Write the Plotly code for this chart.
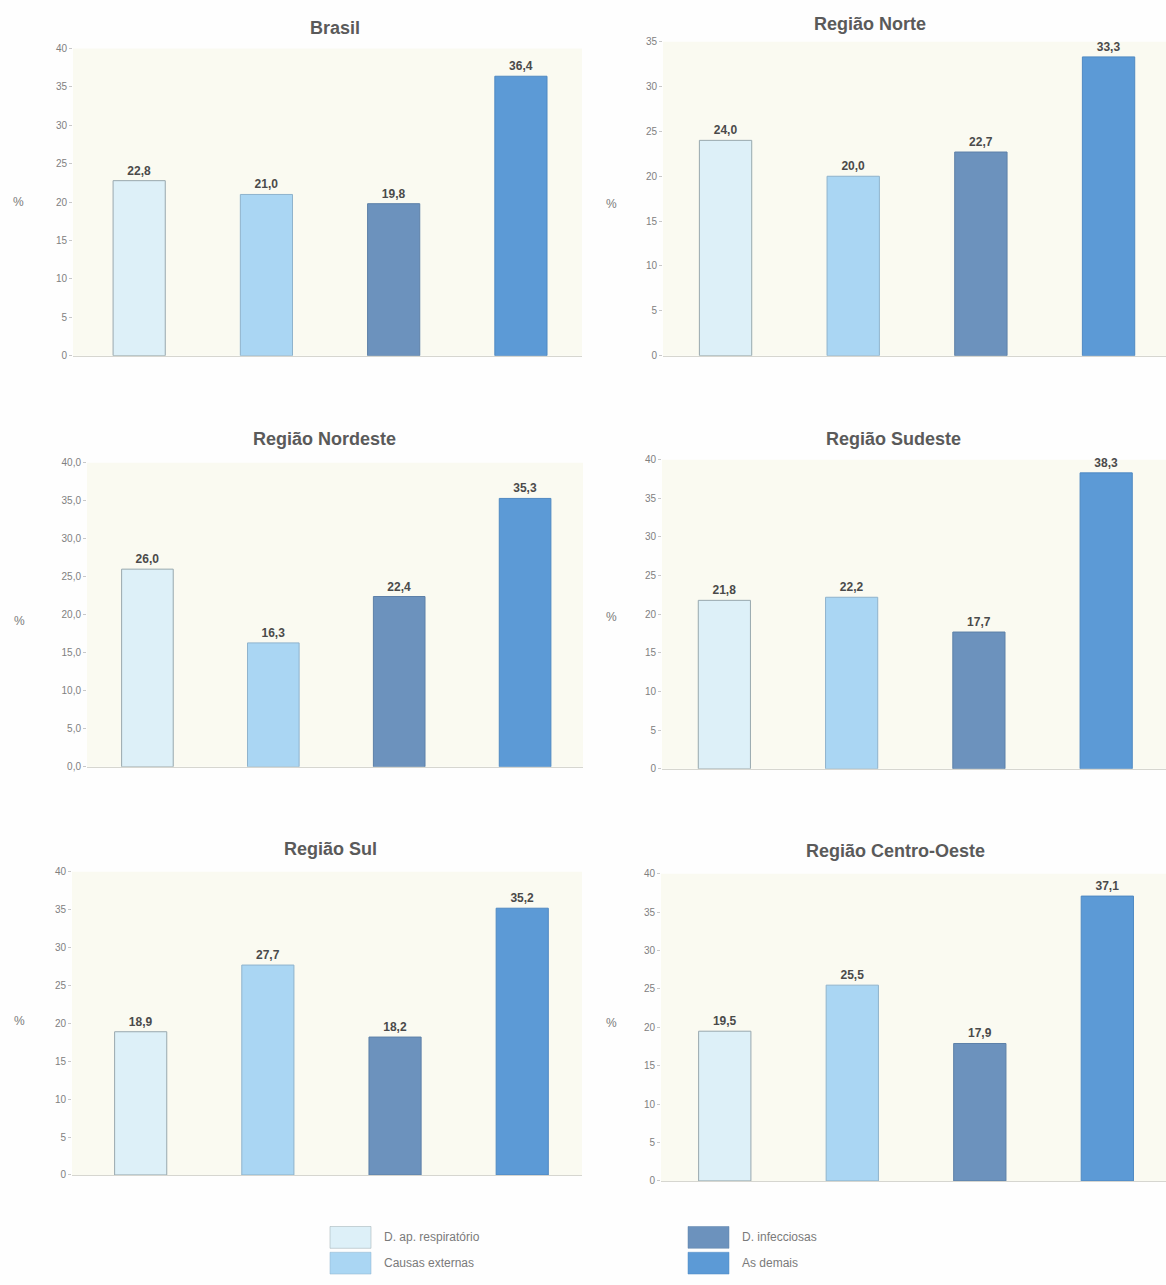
import plotly.graph_objects as go

# Causes of death, share (%) by region
causas = ["D. ap. respiratório", "Causas externas", "D. infecciosas", "As demais"]
cores = ["#ddf0f8", "#aad6f3", "#6c92bd", "#5c9ad6"]
bordas = ["#98a8ae", "#8fb3cc", "#5d80a8", "#4f89c2"]

regioes = ["Brasil", "Região Norte", "Região Nordeste",
           "Região Sudeste", "Região Sul", "Região Centro-Oeste"]
brasil = [22.8, 21.0, 19.8, 36.4]
norte = [24.0, 20.0, 22.7, 33.3]
nordeste = [26.0, 16.3, 22.4, 35.3]
sudeste = [21.8, 22.2, 17.7, 38.3]
sul = [18.9, 27.7, 18.2, 35.2]
centro_oeste = [19.5, 25.5, 17.9, 37.1]
valores = [brasil, norte, nordeste, sudeste, sul, centro_oeste]

y_max = [40, 35, 40, 40, 40, 40]
y_fmt = ["d", "d", ".1f", "d", "d", "d"]

W, H = 1166, 1285

# panel boxes in pixels: left, right, top, bottom
caixas = [
    (73, 582, 43, 353),
    (663, 1166, 36, 353),
    (87, 583, 461, 768),
    (662, 1166, 458, 770),
    (72, 582, 874, 1180),
    (661, 1166, 876, 1186),
]
x_rng = [(-0.52, 3.48), (-0.49, 3.45), (-0.48, 3.46),
         (-0.49, 3.47), (-0.54, 3.47), (-0.5, 3.46)]
titulo_xy = [(335, 22), (870, 18), (325, 437), (893, 437), (330, 851), (895, 853)]
pct_xy = [(18, 198), (611, 200), (19, 621), (611, 617), (19, 1025), (611, 1027)]

fig = go.Figure()
annotations = []
for i, (nome, vals) in enumerate(zip(regioes, valores)):
    ax = "" if i == 0 else str(i + 1)
    fig.add_trace(go.Bar(
        x=causas, y=vals,
        xaxis="x" + ax, yaxis="y" + ax,
        marker=dict(color=cores, line=dict(color=bordas, width=1)),
        width=0.41,
        texttemplate="%{y:.1f}", textposition="outside", cliponaxis=False,
        textfont=dict(family="Liberation Sans, Arial", size=12, color="#4a4a4a",
                      weight="bold"),
        showlegend=False, hoverinfo="skip",
    ))
    l, r, t, b = caixas[i]
    fig.update_layout(**{
        "xaxis" + ax: dict(
            domain=[l / W, r / W], range=list(x_rng[i]), anchor="y" + ax,
            showticklabels=False, ticks="", showgrid=False, zeroline=False,
            showline=True, linecolor="#d6d6d0", linewidth=1, fixedrange=True,
        ),
        "yaxis" + ax: dict(
            domain=[1 - b / H, 1 - t / H], range=[0, y_max[i]], anchor="x" + ax,
            dtick=5, tickformat=y_fmt[i], showgrid=False, zeroline=False,
            showline=False, ticks="outside", ticklen=3, tickcolor="#c8c8c8",
            tickfont=dict(family="Liberation Sans, Arial", size=10, color="#808080"),
            fixedrange=True,
        ),
    })
    # pale plot background
    fig.add_shape(type="rect", xref="x" + ax + " domain", yref="y" + ax + " domain",
                  x0=0, x1=1, y0=0, y1=1, fillcolor="#fafaf1", line_width=0,
                  layer="below")
    tx, ty = titulo_xy[i]
    annotations.append(dict(
        x=tx / W, y=1 - ty / H, xref="paper", yref="paper", text="<b>%s</b>" % nome,
        showarrow=False, xanchor="center", yanchor="middle",
        font=dict(family="Liberation Sans, Arial", size=18, color="#5a5a5a"),
    ))
    px, py = pct_xy[i]
    annotations.append(dict(
        x=px / W, y=1 - py / H, xref="paper", yref="paper", text="%",
        showarrow=False, xanchor="center", yanchor="middle",
        font=dict(family="Liberation Sans, Arial", size=12, color="#7a7a7a"),
    ))

# legend: two columns of swatches with labels
leg_pos = [(330, 1232), (330, 1258), (688, 1232), (688, 1258)]
for nome, cor, borda, (lx, ly) in zip(causas, cores, bordas, leg_pos):
    fig.add_shape(type="rect", xref="paper", yref="paper",
                  x0=lx / W, x1=(lx + 41) / W, y0=1 - (ly + 22) / H, y1=1 - ly / H,
                  fillcolor=cor, line=dict(color=borda, width=0.5))
    annotations.append(dict(
        x=(lx + 52) / W, y=1 - (ly + 11) / H, xref="paper", yref="paper",
        text=nome, showarrow=False, xanchor="left", yanchor="middle",
        font=dict(family="Liberation Sans, Arial", size=12, color="#7a7a7a"),
    ))

fig.update_layout(
    width=W, height=H,
    margin=dict(l=0, r=0, t=0, b=0),
    paper_bgcolor="#fefefe", plot_bgcolor="rgba(0,0,0,0)",
    separators=",.",
    annotations=annotations,
    showlegend=False,
    font=dict(family="Liberation Sans, Arial"),
)

fig.write_html("out.html")
